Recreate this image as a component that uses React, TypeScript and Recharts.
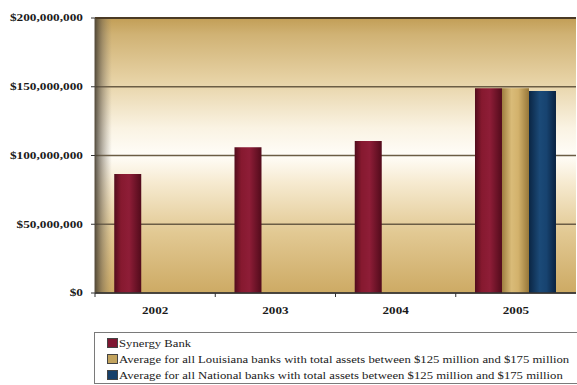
import React from 'react';
import { BarChart, Bar, XAxis, YAxis, CartesianGrid, Legend, ReferenceArea, ReferenceLine } from 'recharts';

const years = ['2002', '2003', '2004', '2005'];
const synergy = [86500000, 106000000, 110500000, 149000000];
const louisiana = [null, null, null, 149000000];
const national = [null, null, null, 147000000];
const yTicks = [0, 50000000, 100000000, 150000000, 200000000];
const seriesNames = [
  'Synergy Bank',
  'Average for all Louisiana banks with total assets between $125 million and $175 million',
  'Average for all National banks with total assets between $125 million and $175 million',
];
const swatchColors = ['#7e1630', '#c2a35e', '#17406a'];

const data = years.map((y, i) => ({
  year: y,
  synergy: synergy[i],
  louisiana: louisiana[i],
  national: national[i],
}));

const FONT = '"Liberation Serif", "Times New Roman", serif';

const fmt = (v: number) => '$' + v.toLocaleString('en-US');

const YTick = (props: any) => {
  const { x, y, payload } = props;
  return (
    <g transform={`translate(${x},${y})`}>
      <text transform="scale(1.4,1)" textAnchor="end" dy="0.35em" fontSize={9.5} fontWeight="bold" fontFamily={FONT} fill="#1a1a1a">
        {fmt(payload.value)}
      </text>
    </g>
  );
};

const XTick = (props: any) => {
  const { x, y, payload, width, visibleTicksCount } = props;
  const band = width && visibleTicksCount ? width / visibleTicksCount : 0;
  return (
    <g transform={`translate(${x},${y})`}>
      {band > 0 && <line x1={-band / 2} x2={-band / 2} y1={0} y2={4} stroke="#333" strokeWidth={1} />}
      <text transform="scale(1.25,1)" textAnchor="middle" y={17} dy="0.35em" fontSize={10.5} fontWeight="bold" fontFamily={FONT} fill="#1a1a1a">
        {payload.value}
      </text>
    </g>
  );
};

const renderLegend = () => (
  <div
    style={{
      boxSizing: 'border-box',
      width: '100%',
      height: 52,
      border: '1px solid #7a7a7a',
      background: '#fff',
      paddingTop: 2,
      paddingLeft: 12,
      fontFamily: FONT,
      fontSize: 10,
      color: '#222',
    }}
  >
    {seriesNames.map((n, i) => (
      <div key={n} style={{ height: 16, display: 'flex', alignItems: 'center', whiteSpace: 'nowrap' }}>
        <span
          style={{
            display: 'inline-block',
            width: 9,
            height: 8,
            background: swatchColors[i],
            border: '1px solid #444',
            marginRight: 1,
          }}
        />
        <span style={{ display: 'inline-block', transform: 'scaleX(1.27)', transformOrigin: 'left center' }}>{n}</span>
      </div>
    ))}
  </div>
);

export default function App() {
  return (
    <div style={{ position: 'absolute', left: 0, top: 0, width: 577, height: 385, overflow: 'hidden', background: '#fff' }}>
      <BarChart
        width={577}
        height={385}
        data={data}
        margin={{ top: 18, right: 1, left: 0, bottom: 10 }}
        barCategoryGap="16%"
        barGap={0}
      >
        <defs>
          <linearGradient id="bgGrad" x1="0" y1="0" x2="0" y2="1">
            <stop offset="0%" stopColor="#c29e56" />
            <stop offset="6%" stopColor="#d0b274" />
            <stop offset="22%" stopColor="#e6d1a3" />
            <stop offset="40%" stopColor="#faf3e3" />
            <stop offset="50%" stopColor="#fffdf8" />
            <stop offset="60%" stopColor="#f6ead0" />
            <stop offset="78%" stopColor="#e2c993" />
            <stop offset="100%" stopColor="#cdaa64" />
          </linearGradient>
          <linearGradient id="leftShade" x1="0" y1="0" x2="1" y2="0">
            <stop offset="0%" stopColor="#3e382c" stopOpacity={0.85} />
            <stop offset="1.5%" stopColor="#6a6050" stopOpacity={0.5} />
            <stop offset="3.5%" stopColor="#8a7f6a" stopOpacity={0} />
            <stop offset="100%" stopColor="#8a7f6a" stopOpacity={0} />
          </linearGradient>
          <linearGradient id="synGrad" x1="0" y1="0" x2="1" y2="0">
            <stop offset="0%" stopColor="#520c1c" />
            <stop offset="25%" stopColor="#86192f" />
            <stop offset="55%" stopColor="#8e1d37" />
            <stop offset="100%" stopColor="#520b1b" />
          </linearGradient>
          <linearGradient id="louGrad" x1="0" y1="0" x2="1" y2="0">
            <stop offset="0%" stopColor="#9e7e40" />
            <stop offset="35%" stopColor="#d9bb78" />
            <stop offset="60%" stopColor="#d3b26c" />
            <stop offset="100%" stopColor="#977739" />
          </linearGradient>
          <linearGradient id="natGrad" x1="0" y1="0" x2="1" y2="0">
            <stop offset="0%" stopColor="#0b2644" />
            <stop offset="40%" stopColor="#1b4a78" />
            <stop offset="65%" stopColor="#174370" />
            <stop offset="100%" stopColor="#0a2240" />
          </linearGradient>
        </defs>
        <CartesianGrid vertical={false} fill="url(#bgGrad)" fillOpacity={1} stroke="#6b5d45" strokeWidth={1.5} />
        <ReferenceArea y1={0} y2={200000000} fill="url(#leftShade)" fillOpacity={1} stroke="none" />
        <ReferenceLine y={200000000} stroke="#4a3a25" strokeWidth={2} />
        <XAxis
          dataKey="year"
          height={30}
          tickLine={false}
          tickSize={0}
          tickMargin={0}
          axisLine={{ stroke: '#333', strokeWidth: 1.5 }}
          tick={<XTick />}
          interval={0}
        />
        <YAxis
          width={95}
          domain={[0, 200000000]}
          ticks={yTicks}
          tickSize={4}
          tickMargin={8}
          tickLine={{ stroke: '#333' }}
          axisLine={{ stroke: '#5b5040' }}
          tick={<YTick />}
          interval={0}
        />
        <Legend
          verticalAlign="bottom"
          content={renderLegend}
          wrapperStyle={{ left: 94, top: 332, width: 500, height: 52 }}
        />
        <Bar dataKey="synergy" name={seriesNames[0]} fill="url(#synGrad)" isAnimationActive={false} />
        <Bar dataKey="louisiana" name={seriesNames[1]} fill="url(#louGrad)" isAnimationActive={false} />
        <Bar dataKey="national" name={seriesNames[2]} fill="url(#natGrad)" isAnimationActive={false} />
      </BarChart>
    </div>
  );
}
